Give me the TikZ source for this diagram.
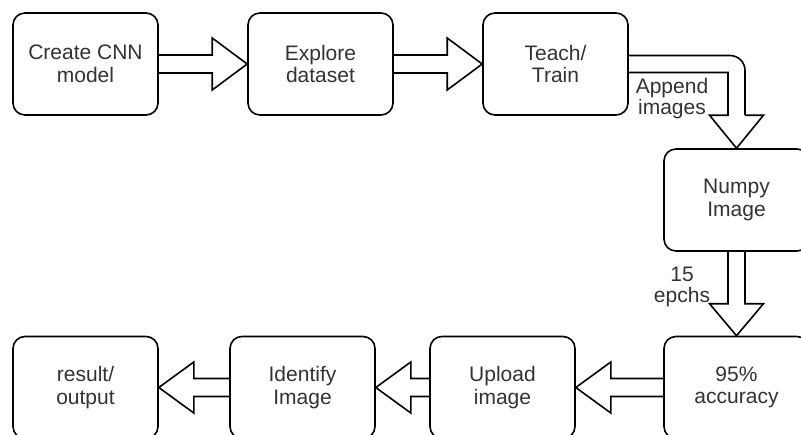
\documentclass[tikz,border=0pt]{standalone}
\usepackage{fontspec}
\setmainfont{Liberation Sans}
\usetikzlibrary{calc}
\tikzset{
  box/.style={draw, line width=1.6pt, rounded corners=12pt, minimum width=145pt,
    minimum height=102pt, align=center, fill=white, text=black!80,
    font=\fontsize{21}{22.5}\selectfont, inner sep=0pt},
  barrow/.style={draw, line width=1.6pt, line join=miter, miter limit=10},
  lbl/.style={align=center, text=black!80, font=\fontsize{21}{21}\selectfont, inner sep=0pt}
}
\newcommand\rightblock[2]{\draw[barrow] ($(#1.east)+(0,-9)$) -- ($(#2.west)+(-35,-9)$) -- ($(#2.west)+(-35,-26)$) -- (#2.west) -- ($(#2.west)+(-35,26)$) -- ($(#2.west)+(-35,9)$) -- ($(#1.east)+(0,9)$);}
\newcommand\leftblock[2]{\draw[barrow] ($(#1.west)+(0,-9)$) -- ($(#2.east)+(35,-9)$) -- ($(#2.east)+(35,-25.5)$) -- (#2.east) -- ($(#2.east)+(35,25.5)$) -- ($(#2.east)+(35,9)$) -- ($(#1.west)+(0,9)$);}
\begin{document}
\begin{tikzpicture}[x=1pt,y=-1pt]
\useasboundingbox (0,0) rectangle (801,434);
\clip (0,0) rectangle (801,434);
\fill[white] (0,0) rectangle (801,434);
% boxes
\node[box] (c1) at (85.5,64) {Create CNN\\model};
\node[box] (c2) at (320.5,64) {Explore\\dataset};
\node[box] (c3) at (555.5,64) {Teach/\\Train};
\node[box] (np) at (736.5,200) {Numpy\\Image};
\node[box] (acc) at (736.5,387.5) {95\%\\accuracy};
\node[box] (up) at (502.5,387.5) {Upload\\image};
\node[box] (id) at (302.5,387.5) {Identify\\Image};
\node[box] (res) at (85.5,387.5) {result/\\output};
% top row arrows
\rightblock{c1}{c2}
\rightblock{c2}{c3}
% bent arrow
\coordinate (bend) at (np.north |- c3.east);
\draw[barrow] ($(c3.east)+(0,8.5)$) -- ($(bend)+(-8.5,8.5)$) -- ($(np.north)+(-8.5,-33)$) -- ($(np.north)+(-27,-33)$) -- (np.north) -- ($(np.north)+(27,-33)$) -- ($(np.north)+(8.5,-33)$);
\draw[barrow, rounded corners=15pt, line cap=square] ($(np.north)+(8.5,-33)$) -- ($(bend)+(8.5,-8.5)$) -- ($(c3.east)+(0,-8.5)$);
% down arrow
\draw[barrow] ($(np.south)+(-8.5,0)$) -- ($(acc.north)+(-8.5,-32)$) -- ($(acc.north)+(-27,-32)$) -- (acc.north) -- ($(acc.north)+(27,-32)$) -- ($(acc.north)+(8.5,-32)$) -- ($(np.south)+(8.5,0)$);
% bottom row arrows
\leftblock{acc}{up}
\leftblock{up}{id}
\leftblock{id}{res}
% labels
\node[lbl] (app) at (672,99) {Append\\images};
\node[lbl] (ep) at (682,287) {15\\epchs};
\end{tikzpicture}
\end{document}
